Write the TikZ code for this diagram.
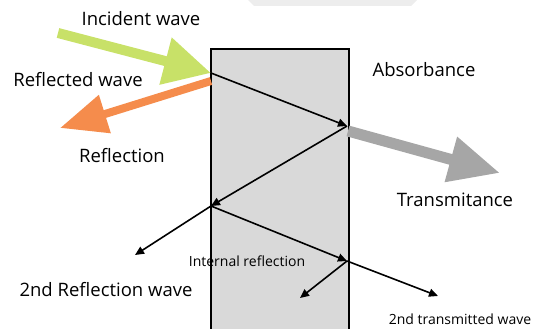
\documentclass[tikz,border=0pt]{standalone}
\usepackage{fontspec}
\setmainfont{Open Sans}
\usepackage{tikz}
\usetikzlibrary{arrows.meta}
\definecolor{incgreen}{RGB}{200,225,104}
\definecolor{reflorange}{RGB}{245,140,76}
\definecolor{transgray}{RGB}{166,166,166}
\definecolor{slabgray}{RGB}{217,217,217}
\definecolor{tabgray}{RGB}{237,237,237}

\begin{document}
\begin{tikzpicture}[
  x=1pt, y=-1pt,
  lbl/.style={font=\fontsize{18.5}{22}\selectfont, inner sep=0pt},
  smalllbl/.style={font=\fontsize{14}{17}\selectfont, inner sep=0pt},
  ray/.style={-{Triangle[length=9pt,width=8pt]}, line width=1.6pt},
]
  \useasboundingbox (0,0) rectangle (536,329);
  \fill[tabgray] (248,-5) -- (248,0) -- (254,6) -- (411,6) -- (417,0) -- (417,-5) -- cycle;

  % the slab
  \node[draw, line width=1.6pt, fill=slabgray, minimum width=138pt, minimum height=300pt,
        anchor=north west, inner sep=0pt] (slab) at (210,48) {};

  % hit points on the faces
  \coordinate (hitA) at (211,73);
  \coordinate (hitB) at (347,126);
  \coordinate (hitC) at (211,206);
  \coordinate (hitD) at (347,261);
  \coordinate (incstart) at (58,33);
  \coordinate (reflstart) at (211,81);
  \coordinate (reflend) at (60,128);
  \coordinate (transstart) at (348,131);
  \coordinate (transend) at (500,173);
  \coordinate (refltwo) at (135,255);
  \coordinate (innertwo) at (300,298);
  \coordinate (transtwo) at (438,296);

  % big arrows
  \draw[incgreen, line width=10pt, -{Triangle[length=47pt,width=46pt]}] (incstart) -- (hitA);
  \draw[reflorange, line width=8pt, -{Triangle[length=47pt,width=38pt]}] (reflstart) -- (reflend);
  \draw[transgray, line width=11pt, -{Triangle[length=51pt,width=44pt]}] (transstart) -- (transend);

  % rays
  \draw[ray] (hitA) -- (hitB);
  \draw[ray] (hitB) -- (hitC);
  \draw[ray] (hitC) -- (refltwo);
  \draw[ray] (hitC) -- (hitD);
  \draw[ray] (hitD) -- (innertwo);
  \draw[ray] (hitD) -- (transtwo);

  % labels
  \node[lbl] (inclbl) at (141,19) {Incident wave};
  \node[lbl] (refllbl) at (78,80) {Reflected wave};
  \node[lbl] (reflectionlbl) at (122,156) {Reflection};
  \node[lbl] (abslbl) at (424,70) {Absorbance};
  \node[lbl] (translbl) at (455,200) {Transmitance};
  \node[lbl] (refltwolbl) at (106,290) {2nd Reflection wave};
  \node[smalllbl] (internallbl) at (247,261) {Internal reflection};
  \node[smalllbl] (transtwolbl) at (460,319) {2nd transmitted wave};
\end{tikzpicture}
\end{document}
